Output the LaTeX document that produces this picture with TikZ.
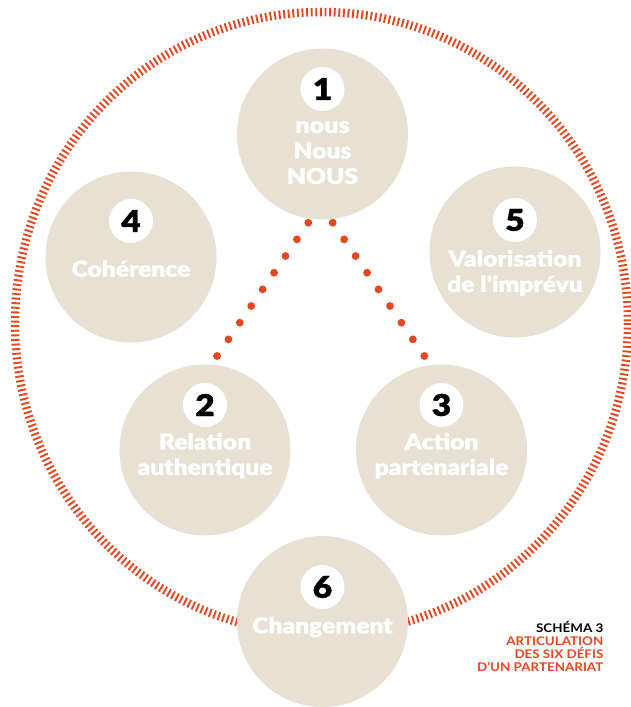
\documentclass[tikz,border=0pt]{standalone}
\usepackage{fontspec}
\setmainfont{Lato}
\newfontfamily\heavyfont{Lato Black}[FakeStretch=1.12,FakeBold=1]
\newfontfamily\captionfont{Lato}[FakeStretch=1.12]
\usetikzlibrary{calc}
\definecolor{defired}{RGB}{232,70,30}
\definecolor{defibeige}{RGB}{232,224,210}

\begin{document}
\begin{tikzpicture}[x=1bp,y=-1bp,
    defi/.style={circle,fill=defibeige,minimum size=171bp,inner sep=0pt},
    badge/.style={circle,fill=white,minimum size=44bp,inner sep=0pt,
        font=\heavyfont\fontsize{30}{30}\selectfont},
    defitext/.style={text=white,align=center,inner sep=0pt,anchor=base,
        font=\heavyfont\fontsize{22}{25.6}\selectfont}]
                \useasboundingbox (0,0) rectangle (631,707);
                % outer ring of ticks
                \draw[defired,line width=8.5bp,dash pattern=on 1.9bp off 2.7bp] (321.5,323) ellipse (306.5 and 311);

                % the six challenges
                \node[defi] (c1) at (322.5,134) {};
                \node[defi] (c4) at (131,257) {};
                \node[defi] (c5) at (515,252) {};
                \node[defi] (c2) at (205,450) {};
                \node[defi] (c3) at (441.5,450) {};
                \node[defi] (c6) at (322.5,621.5) {};

                \node[badge] (n1) at (322.5,89) {1};
                \node[badge] (n4) at (131,221) {4};
                \node[badge] (n5) at (515,220) {5};
                \node[badge] (n2) at (205,405) {2};
                \node[badge] (n3) at (441.5,405) {3};
                \node[badge] (n6) at (322.5,587) {6};

                % base of a node of several lines is its last line
                \node[defitext] (t1) at (322.5,184) {{\fontsize{22.5}{25.6}\selectfont nous}\\Nous\\NOUS};
                \node[defitext] (t4) at (131,276.7) {Cohérence};
                \node[defitext] (t5) at (515,292) {Valorisation\\de l'imprévu};
                \node[defitext] (t2) at (205,475) {Relation\\authentique};
                \node[defitext] (t3) at (441.5,475) {Action\\partenariale};
                \node[defitext] (t6) at (322.5,633.3) {Changement};

                % dotted links from 1 to 2 and 3
                \coordinate (d1l) at (308.3,222.7);
                \coordinate (d2) at (217,356);
                \coordinate (d1r) at (332.7,222.7);
                \coordinate (d3) at (424.3,356);
                \foreach \t in {0,...,8} {
                    \fill[defired] ($(d1l)!\t/8!(d2)$) circle (3.9);
                    \fill[defired] ($(d1r)!\t/8!(d3)$) circle (3.9);
                }

                \node[anchor=base east,align=right,inner sep=0pt,font=\captionfont\bfseries\fontsize{12}{13}\selectfont] (caption) at (603.5,671.7)
                    {SCHÉMA 3\\\textcolor{defired}{ARTICULATION}\\\textcolor{defired}{DES SIX DÉFIS}\\\textcolor{defired}{D’UN PARTENARIAT}};
\end{tikzpicture}
\end{document}
